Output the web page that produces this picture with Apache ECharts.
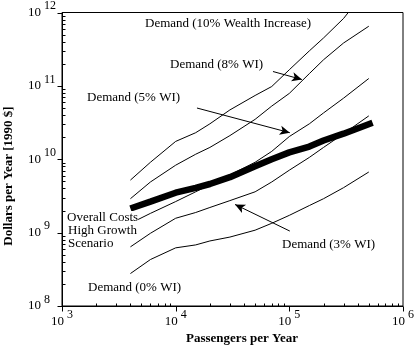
<!DOCTYPE html>
<html>
<head>
<meta charset="utf-8">
<title>Demand and overall costs</title>
<script src="https://cdn.jsdelivr.net/npm/echarts@6/dist/echarts.min.js"></script>
<style>
  html, body { margin: 0; padding: 0; background: #fff; }
  #chart { width: 418px; height: 352px; }
</style>
</head>
<body>
<div id="chart"></div>
<script>
// passengers per year (x) for each curve
const passengers = [4000, 6000, 10000, 15000, 20000, 30000, 50000, 70000, 100000, 150000, 200000, 300000, 500000];
const passengers10 = [4000, 6000, 10000, 15000, 20000, 30000, 50000, 70000, 100000, 150000, 200000, 300000, 330000];
const passengersCost = [4000, 6000, 10000, 15000, 20000, 30000, 50000, 70000, 100000, 150000, 200000, 300000, 540000];

// dollars per year [1990 $]
const demand10 = [5.2e9, 9.1e9, 1.75e10, 2.3e10, 3.04e10, 4.7e10, 7.4e10, 9.8e10, 1.66e11, 3.0e11, 4.5e11, 8.3e11, 1e12];
const demand8 = [2.9e9, 4.9e9, 8.3e9, 1.17e10, 1.45e10, 2.1e10, 3.5e10, 5.3e10, 7.9e10, 1.47e11, 2.27e11, 3.84e11, 6.5e11];
const demand5 = [1.34e9, 1.83e9, 2.65e9, 3.6e9, 4.5e9, 6.1e9, 9.1e9, 1.28e10, 2.04e10, 3.04e10, 4.28e10, 6.8e10, 1.26e11];
const demand3 = [6.4e8, 9.8e8, 1.57e9, 1.88e9, 2.2e9, 2.73e9, 3.6e9, 4.9e9, 7.1e9, 1.06e10, 1.45e10, 2.23e10, 3.9e10];
const demand0 = [2.77e8, 4.3e8, 6.2e8, 6.8e8, 7.7e8, 8.7e8, 1.08e9, 1.34e9, 1.72e9, 2.34e9, 2.9e9, 4.1e9, 6.7e9];
const overallCost = [2.13e9, 2.65e9, 3.5e9, 4.08e9, 4.6e9, 5.7e9, 8.05e9, 1.0e10, 1.24e10, 1.49e10, 1.8e10, 2.23e10, 3.14e10];

// decade exponents of the two axes
const xDecades = [3, 4, 5, 6];
const yDecades = [8, 9, 10, 11, 12];

// annotation arrows: [tail, tip] in data units
const arrow8 = [[7.18e4, 1.57e11], [1.29e5, 1.22e11]];
const arrow5 = [[1.54e4, 4.99e10], [1.01e5, 2.3e10]];
const arrow3 = [[1.01e5, 1.05e9], [3.33e4, 2.42e9]];

const serif = '"Liberation Serif", "Times New Roman", serif';
const xMin = Math.pow(10, xDecades[0]);
const xMax = Math.pow(10, xDecades[xDecades.length - 1]);
const yMin = Math.pow(10, yDecades[0]);
const yMax = Math.pow(10, yDecades[yDecades.length - 1]);

const pairs = (xs, ys) => xs.map((x, i) => [x, ys[i]]);

// tick marks as [x, y, length, direction]; direction 0 = bottom axis, 1 = left axis
// major ticks point outward (negative length), minor ticks 2..9 point inward
const tickMarks = [];
xDecades.forEach((d, i) => {
  tickMarks.push([Math.pow(10, d), yMin, -5, 0]);
  if (i < xDecades.length - 1) {
    for (let m = 2; m <= 9; m++) tickMarks.push([m * Math.pow(10, d), yMin, 3, 0]);
  }
});
yDecades.forEach((d, i) => {
  tickMarks.push([xMin, Math.pow(10, d), -5, 1]);
  if (i < yDecades.length - 1) {
    for (let m = 2; m <= 9; m++) tickMarks.push([xMin, m * Math.pow(10, d), 3, 1]);
  }
});

const thin = (name, xs, ys) => ({
  name,
  type: 'line',
  data: pairs(xs, ys),
  symbol: 'none',
  silent: true,
  lineStyle: { color: '#000', width: 1 },
});

const powLabel = (v) => '{b|10}{s|' + Math.round(Math.log10(v)) + '}';
const labelRich = {
  b: { fontFamily: serif, fontSize: 13, color: '#000', padding: [6, 0, 6, 0] },
  s: { fontFamily: serif, fontSize: 12, color: '#000', verticalAlign: 'top', padding: [0, 0, 0, 3] },
};

const mainAxis = {
  type: 'log',
  logBase: 10,
  axisLine: { show: true, lineStyle: { color: '#000', width: 1 } },
  axisTick: { show: false },
  splitLine: { show: false },
};

const renderTick = (params, api) => {
  const p = api.coord([api.value(0), api.value(1)]);
  const len = api.value(2);
  const x = Math.round(p[0]) + 0.5;
  const y = Math.round(p[1]) + 0.5;
  const shape = api.value(3) === 0
    ? { x1: x, y1: y, x2: x, y2: y - len }
    : { x1: x, y1: y, x2: x + len, y2: y };
  return { type: 'line', shape, style: { stroke: '#000', lineWidth: 1 } };
};

const arrowLine = (a) => [{ coord: a[0] }, { coord: a[1] }];

const text = (str, x, y, extra) => ({
  type: 'text',
  x, y, z: 100,
  style: Object.assign({
    text: str, font: '13px ' + serif, fill: '#000',
    textAlign: 'left', textVerticalAlign: 'middle',
  }, extra || {}),
});

const chart = echarts.init(document.getElementById('chart'), null, { renderer: 'canvas' });

chart.setOption({
  animation: false,
  backgroundColor: '#fff',
  grid: {
    left: 62, right: 15, top: 8, bottom: 46,
    show: true, borderColor: '#000', borderWidth: 1, backgroundColor: 'transparent',
  },
  xAxis: Object.assign({}, mainAxis, {
    min: xMin, max: xMax,
    axisLabel: { margin: 3, formatter: powLabel, rich: labelRich },
  }),
  yAxis: Object.assign({}, mainAxis, {
    min: yMin, max: yMax,
    axisLabel: { margin: 34, align: 'left', formatter: powLabel, rich: labelRich },
  }),
  series: [
    thin('Demand (10% Wealth Increase)', passengers10, demand10),
    Object.assign(thin('Demand (8% WI)', passengers, demand8), {
      markLine: {
        silent: true,
        symbol: ['none', 'arrow'],
        symbolSize: [7, 10],
        label: { show: false },
        lineStyle: { color: '#000', width: 1, type: 'solid' },
        emphasis: { disabled: true },
        data: [arrowLine(arrow8), arrowLine(arrow5), arrowLine(arrow3)],
      },
    }),
    thin('Demand (5% WI)', passengers, demand5),
    thin('Demand (3% WI)', passengers, demand3),
    thin('Demand (0% WI)', passengers, demand0),
    {
      name: 'Overall Costs',
      type: 'line',
      data: pairs(passengersCost, overallCost),
      symbol: 'none',
      silent: true,
      lineStyle: { color: '#000', width: 6.5 },
    },
    {
      name: 'ticks',
      type: 'custom',
      data: tickMarks,
      renderItem: renderTick,
      silent: true,
      clip: false,
      z: 10,
    },
  ],
  graphic: [
    text('Demand (10% Wealth Increase)', 145, 24),
    text('Demand (8% WI)', 170, 65),
    text('Demand (5% WI)', 87, 98),
    text('Overall Costs', 67, 218, { backgroundColor: '#fff', padding: [1, 0, 0, 0] }),
    text('High Growth', 68, 231),
    text('Scenario', 68, 244),
    text('Demand (3% WI)', 282, 245),
    text('Demand (0% WI)', 88, 288),
    text('Passengers per Year', 242, 339, { font: 'bold 13px ' + serif, textAlign: 'center' }),
    {
      type: 'text', x: 9, y: 176, rotation: Math.PI / 2, z: 100,
      style: {
        text: 'Dollars per Year [1990 $]', font: 'bold 13px ' + serif, fill: '#000',
        textAlign: 'center', textVerticalAlign: 'middle',
      },
    },
  ],
});
</script>
</body>
</html>
